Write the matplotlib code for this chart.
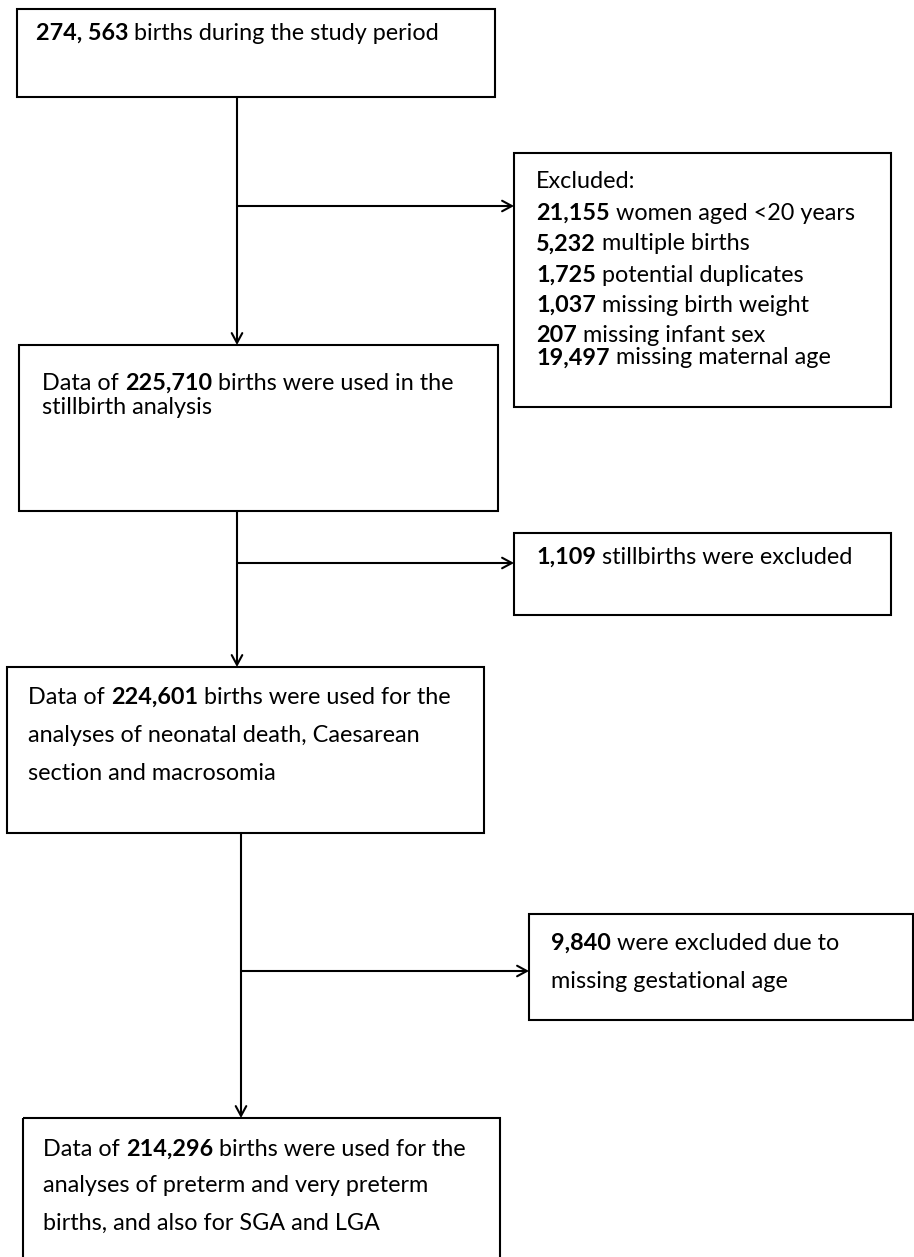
import matplotlib
matplotlib.use("Agg")
import matplotlib.pyplot as plt
from matplotlib.patches import Rectangle

FONT = ["Lato", "DejaVu Sans"]

# ---- data ----
start_total = "274, 563"
excluded_counts = ["21,155", "5,232", "1,725", "1,037", "207", "19,497"]
excluded_reasons = ["women aged <20 years", "multiple births", "potential duplicates",
                    "missing birth weight", "missing infant sex", "missing maternal age"]
stillbirths_excluded = "1,109"
gestational_excluded = "9,840"
stillbirth_sample = "225,710"
neonatal_sample = "224,601"
preterm_sample = "214,296"

W, H = 914, 1257
fig = plt.figure(figsize=(W / 100, H / 100), dpi=100)
ax = fig.add_axes([0, 0, 1, 1])
ax.set_xlim(0, W)
ax.set_ylim(H, 0)
ax.axis("off")

LW = 1.5
FS = 16.8


def box(x0, y0, x1, y1):
    ax.add_patch(Rectangle((x0, y0), x1 - x0, y1 - y0, fill=False,
                           edgecolor="black", lw=LW))


def rich(x, y, bold, rest, size=FS):
    t = ax.text(x, y, bold, fontweight="bold", va="center", ha="left",
                fontsize=size, family=FONT, color="black")
    if rest:
        ax.annotate(rest, xy=(1, 0), xycoords=t, va="bottom", ha="left",
                    fontsize=size, family=FONT, color="black")
    return t


def plain(x, y, s, size=FS):
    ax.text(x, y, s, va="center", ha="left", fontsize=size, family=FONT,
            color="black")


def data_line(x, y, n, rest, size=FS):
    t = ax.text(x, y, "Data of ", va="center", ha="left", fontsize=size, family=FONT)
    t2 = ax.annotate(n, xy=(1, 0), xycoords=t, va="bottom", ha="left",
                     fontsize=size, family=FONT, fontweight="bold")
    ax.annotate(rest, xy=(1, 0), xycoords=t2, va="bottom", ha="left",
                fontsize=size, family=FONT)


def arrow(x0, y0, x1, y1):
    ax.annotate("", xy=(x1, y1), xytext=(x0, y0),
                arrowprops=dict(arrowstyle="->,head_length=0.7,head_width=0.38",
                                lw=LW, color="black", shrinkA=0, shrinkB=0))


# boxes
box(17, 9, 495, 97)
box(514, 153, 891, 407)
box(19, 345, 498, 511)
box(514, 533, 891, 615)
box(7, 667, 484, 833)
box(529, 914, 913, 1020)
box(23, 1118, 500, 1262)

# connectors
arrow(237, 97, 237, 345)
arrow(237, 206, 514, 206)
arrow(237, 511, 237, 667)
arrow(237, 563, 514, 563)
arrow(241, 833, 241, 1118)
arrow(241, 971, 529, 971)

# texts
rich(36, 33, start_total, " births during the study period")

plain(536, 181, "Excluded:")
ex_y = [213, 244, 275, 305, 336, 358]
for yy, c, r in zip(ex_y, excluded_counts, excluded_reasons):
    rich(536, yy, c, " " + r)

data_line(42, 383, stillbirth_sample, " births were used in the")
plain(42, 408, "stillbirth analysis")

rich(536, 557, stillbirths_excluded, " stillbirths were excluded")

data_line(28, 697, neonatal_sample, " births were used for the")
plain(28, 735, "analyses of neonatal death, Caesarean")
plain(28, 773, "section and macrosomia")

rich(551, 943, gestational_excluded, " were excluded due to")
plain(551, 982, "missing gestational age")

data_line(43, 1149, preterm_sample, " births were used for the")
plain(43, 1186, "analyses of preterm and very preterm")
plain(43, 1223, "births, and also for SGA and LGA")

fig.savefig("out.png", dpi=100)
